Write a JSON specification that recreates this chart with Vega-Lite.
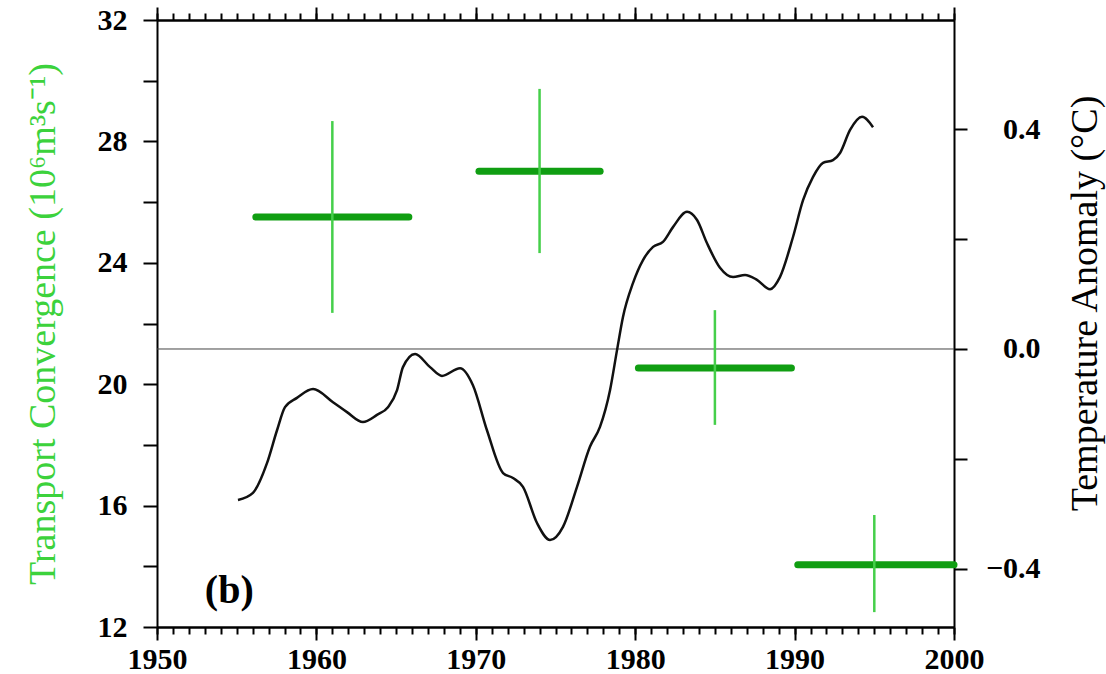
{
  "$schema": "https://vega.github.io/schema/vega-lite/v6.json",
  "width": 797,
  "height": 607,
  "autosize": {"type": "none"},
  "padding": {"left": 157, "top": 20, "right": 152, "bottom": 47},
  "background": "white",
  "config": {
    "view": {"stroke": null},
    "axis": {
      "domainColor": "black", "domainWidth": 2, "tickColor": "black", "tickWidth": 2,
      "labelFont": "Liberation Serif", "labelFontWeight": "bold", "labelFontSize": 30, "labelColor": "black",
      "titleFont": "Liberation Serif", "titleFontWeight": "normal", "titleFontSize": 38, "titleColor": "black",
      "grid": false, "labelFlush": false, "labelOverlap": false
    }
  },
  "datasets": {
    "temp": [
      {"year": 1955.08, "anomaly": -0.275}, {"year": 1956.02, "anomaly": -0.262}, {"year": 1956.90, "anomaly": -0.208},
      {"year": 1957.53, "anomaly": -0.148}, {"year": 1958.03, "anomaly": -0.106}, {"year": 1958.78, "anomaly": -0.089},
      {"year": 1959.79, "anomaly": -0.073}, {"year": 1961.04, "anomaly": -0.097}, {"year": 1961.92, "anomaly": -0.115},
      {"year": 1962.92, "anomaly": -0.133}, {"year": 1963.80, "anomaly": -0.120}, {"year": 1964.49, "anomaly": -0.106},
      {"year": 1965.06, "anomaly": -0.075}, {"year": 1965.43, "anomaly": -0.033}, {"year": 1966.19, "anomaly": -0.009},
      {"year": 1967.13, "anomaly": -0.033}, {"year": 1967.88, "anomaly": -0.049}, {"year": 1969.01, "anomaly": -0.035},
      {"year": 1969.82, "anomaly": -0.066}, {"year": 1970.70, "anomaly": -0.148}, {"year": 1971.71, "anomaly": -0.226},
      {"year": 1972.33, "anomaly": -0.235}, {"year": 1972.96, "anomaly": -0.251}, {"year": 1973.84, "anomaly": -0.317},
      {"year": 1974.66, "anomaly": -0.348}, {"year": 1975.47, "anomaly": -0.324}, {"year": 1976.35, "anomaly": -0.251},
      {"year": 1977.16, "anomaly": -0.178}, {"year": 1977.79, "anomaly": -0.142}, {"year": 1978.42, "anomaly": -0.075},
      {"year": 1978.86, "anomaly": -0.002}, {"year": 1979.23, "anomaly": 0.058}, {"year": 1979.86, "anomaly": 0.120},
      {"year": 1980.49, "anomaly": 0.162}, {"year": 1981.12, "anomaly": 0.186}, {"year": 1981.74, "anomaly": 0.195},
      {"year": 1982.37, "anomaly": 0.222}, {"year": 1983.25, "anomaly": 0.250}, {"year": 1983.88, "anomaly": 0.235},
      {"year": 1984.50, "anomaly": 0.193}, {"year": 1985.32, "anomaly": 0.148}, {"year": 1986.14, "anomaly": 0.131},
      {"year": 1986.89, "anomaly": 0.135}, {"year": 1987.64, "anomaly": 0.126}, {"year": 1988.46, "anomaly": 0.109},
      {"year": 1989.08, "anomaly": 0.131}, {"year": 1989.90, "anomaly": 0.204}, {"year": 1990.53, "anomaly": 0.271},
      {"year": 1991.15, "anomaly": 0.313}, {"year": 1991.78, "anomaly": 0.339}, {"year": 1992.41, "anomaly": 0.344},
      {"year": 1992.85, "anomaly": 0.357}, {"year": 1993.48, "anomaly": 0.399}, {"year": 1994.23, "anomaly": 0.423},
      {"year": 1994.92, "anomaly": 0.404}
    ],
    "zero": [{"anomaly": 0}],
    "bars": [
      {"start": 1956.2, "end": 1965.8, "value": 25.51},
      {"start": 1970.2, "end": 1977.8, "value": 27.02},
      {"start": 1980.2, "end": 1989.8, "value": 20.53},
      {"start": 1990.2, "end": 2000.0, "value": 14.05}
    ],
    "err": [
      {"year": 1961.0, "low": 22.35, "high": 28.67},
      {"year": 1974.0, "low": 24.32, "high": 29.73},
      {"year": 1985.0, "low": 18.66, "high": 22.44},
      {"year": 1995.0, "low": 12.49, "high": 15.69}
    ],
    "label": [{"year": 1953.0, "value": 12.8, "text": "(b)"}]
  },
  "resolve": {
    "scale": {"x": "independent", "y": "independent"},
    "axis": {"x": "independent", "y": "independent"}
  },
  "layer": [
    {
      "data": {"name": "zero"},
      "mark": {"type": "rule", "color": "#444444", "strokeWidth": 1},
      "encoding": {
        "y": {"field": "anomaly", "type": "quantitative", "scale": {"domain": [-0.5064, 0.5993], "nice": false, "zero": false}, "axis": null}
      }
    },
    {
      "data": {"name": "bars"},
      "mark": {"type": "rule", "color": "#109e12", "strokeWidth": 7, "strokeCap": "round"},
      "encoding": {
        "x": {"field": "start", "type": "quantitative", "scale": {"domain": [1950, 2000], "nice": false, "zero": false},
          "axis": {"orient": "top", "values": [1950, 1960, 1970, 1980, 1990, 2000], "tickSize": 13, "labels": false, "title": null}},
        "x2": {"field": "end"},
        "y": {"field": "value", "type": "quantitative", "scale": {"domain": [12, 32], "nice": false, "zero": false},
          "axis": {"orient": "left", "values": [12, 14, 16, 18, 20, 22, 24, 26, 28, 30, 32], "tickSize": 14, "labelPadding": 16,
            "labelExpr": "datum.value % 4 === 0 ? datum.label : ''",
            "title": "Transport Convergence (10⁶m³s⁻¹)", "titleColor": "#3cd23c", "titlePadding": 35}}
      }
    },
    {
      "data": {"name": "err"},
      "mark": {"type": "rule", "color": "#45cf4a", "strokeWidth": 2.5},
      "encoding": {
        "x": {"field": "year", "type": "quantitative", "scale": {"domain": [1950, 2000], "nice": false, "zero": false},
          "axis": {"orient": "bottom", "values": [1950,1951,1952,1953,1954,1955,1956,1957,1958,1959,1960,1961,1962,1963,1964,1965,1966,1967,1968,1969,1970,1971,1972,1973,1974,1975,1976,1977,1978,1979,1980,1981,1982,1983,1984,1985,1986,1987,1988,1989,1990,1991,1992,1993,1994,1995,1996,1997,1998,1999,2000], "tickSize": 7, "labels": false, "title": null}},
        "y": {"field": "low", "type": "quantitative", "scale": {"domain": [12, 32], "nice": false, "zero": false}, "axis": null},
        "y2": {"field": "high"}
      }
    },
    {
      "data": {"name": "temp"},
      "mark": {"type": "line", "color": "#111111", "strokeWidth": 2.5, "interpolate": "monotone"},
      "encoding": {
        "x": {"field": "year", "type": "quantitative", "scale": {"domain": [1950, 2000], "nice": false, "zero": false},
          "axis": {"orient": "bottom", "values": [1950, 1960, 1970, 1980, 1990, 2000], "tickSize": 13, "labelPadding": 4, "format": "d", "title": null}},
        "y": {"field": "anomaly", "type": "quantitative", "scale": {"domain": [-0.5064, 0.5993], "nice": false, "zero": false},
          "axis": {"orient": "right", "values": [-0.4, -0.2, 0, 0.2, 0.4], "tickSize": 13, "labelAlign": "right", "labelPadding": 73,
            "labelExpr": "abs(abs(datum.value) - 0.2) < 0.01 ? '' : (datum.value < -0.01 ? '−' : '') + format(abs(datum.value), '.1f')",
            "title": "Temperature Anomaly (°C)", "titleAngle": 270, "titleBaseline": "top", "titlePadding": 26, "titleY": 283}}
      }
    },
    {
      "data": {"name": "label"},
      "mark": {"type": "text", "font": "Liberation Serif", "fontWeight": "bold", "fontSize": 40, "align": "left", "baseline": "alphabetic", "color": "black"},
      "encoding": {
        "x": {"field": "year", "type": "quantitative", "scale": {"domain": [1950, 2000], "nice": false, "zero": false},
          "axis": {"orient": "top", "values": [1950,1951,1952,1953,1954,1955,1956,1957,1958,1959,1960,1961,1962,1963,1964,1965,1966,1967,1968,1969,1970,1971,1972,1973,1974,1975,1976,1977,1978,1979,1980,1981,1982,1983,1984,1985,1986,1987,1988,1989,1990,1991,1992,1993,1994,1995,1996,1997,1998,1999,2000], "tickSize": 7, "labels": false, "title": null}},
        "y": {"field": "value", "type": "quantitative", "scale": {"domain": [12, 32], "nice": false, "zero": false}, "axis": null},
        "text": {"field": "text"}
      }
    }
  ]
}
